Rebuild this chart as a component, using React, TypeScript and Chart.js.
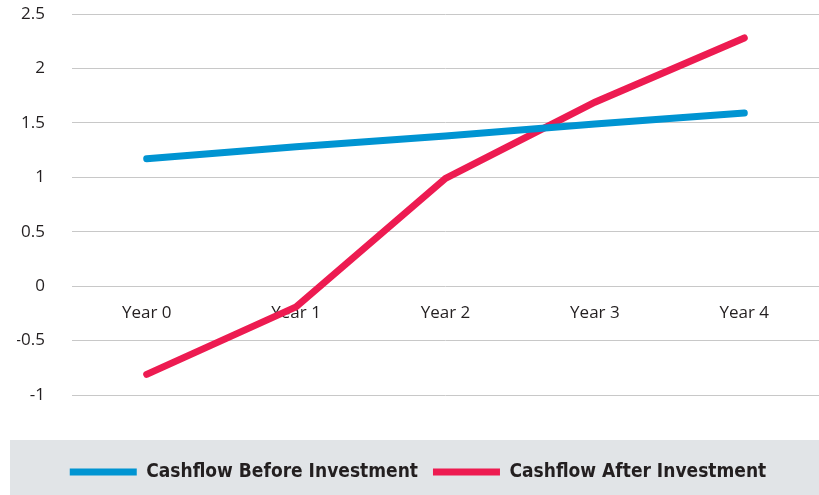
import React, { useEffect, useRef } from "react";
import { Chart, registerables } from "chart.js";

Chart.register(...registerables);

const categories = ["Year 0", "Year 1", "Year 2", "Year 3", "Year 4"];
const beforeInvestment = [1.17, 1.28, 1.38, 1.49, 1.59];
const afterInvestment = [-0.81, -0.19, 0.99, 1.69, 2.28];
const seriesNames = ["Cashflow Before Investment", "Cashflow After Investment"];

const BLUE = "#0094d2";
const RED = "#ed1b51";
const TEXT = "#231f20";

const legendBg = {
  id: "legendBg",
  beforeDraw(chart: any) {
    const lg = chart.legend;
    if (!lg) return;
    const ctx = chart.ctx;
    ctx.save();
    ctx.fillStyle = "#e1e4e7";
    ctx.fillRect(10, lg.top, chart.width - 10, chart.height - lg.top);
    ctx.restore();
  },
};

export default function App() {
  const ref = useRef<HTMLCanvasElement | null>(null);
  useEffect(() => {
    if (!ref.current) return;
    const chart = new Chart(ref.current, {
      type: "line",
      data: {
        labels: categories,
        datasets: [
          {
            label: seriesNames[0],
            data: beforeInvestment,
            borderColor: BLUE,
            backgroundColor: BLUE,
            borderWidth: 7,
            borderCapStyle: "round",
            pointRadius: 0,
            pointHoverRadius: 0,
            tension: 0,
          },
          {
            label: seriesNames[1],
            data: afterInvestment,
            borderColor: RED,
            backgroundColor: RED,
            borderWidth: 7,
            borderCapStyle: "round",
            pointRadius: 0,
            pointHoverRadius: 0,
            tension: 0,
          },
        ],
      },
      options: {
        animation: false,
        responsive: true,
        maintainAspectRatio: false,
        layout: { padding: { left: 17, top: 14, right: 0, bottom: 3.5 } },
        plugins: {
          tooltip: { enabled: false },
          legend: {
            position: "bottom",
            title: {
              display: true,
              text: "",
              font: { size: 1, lineHeight: 1 },
              padding: 3.25,
            },
            labels: {
              usePointStyle: true,
              pointStyle: "line",
              pointStyleWidth: 67,
              boxHeight: 7,
              padding: 15,
              color: TEXT,
              font: {
                family: '"Liberation Sans Narrow", "DejaVu Sans Condensed", Roboto, sans-serif',
                size: 19,
                weight: "bold",
              },
            },
          },
        },
        scales: {
          x: {
            type: "category",
            position: { y: 0 } as any,
            offset: true,
            grid: { display: false, drawTicks: false },
            border: { display: false },
            ticks: {
              color: TEXT,
              padding: 17,
              maxRotation: 0,
              font: { family: '"Open Sans", sans-serif', size: 17 },
            },
          },
          xPad: {
            type: "category",
            axis: "x",
            position: "bottom",
            grid: { display: false, drawTicks: false },
            border: { display: false },
            ticks: { display: false },
            afterFit(scale: any) {
              scale.height = 45;
            },
          } as any,
          y: {
            min: -1,
            max: 2.5,
            ticks: {
              stepSize: 0.5,
              color: TEXT,
              padding: 27,
              font: { family: '"Open Sans", sans-serif', size: 17 },
              callback: (v: any) => String(Number(v)),
            },
            grid: { color: "#c8c8c8", lineWidth: 1, drawTicks: false },
            border: { display: false },
            afterFit(scale: any) {
              scale.width = 55;
              scale.paddingTop = 0;
              scale.paddingBottom = 0;
            },
          },
        },
      },
      plugins: [legendBg],
    });
    return () => chart.destroy();
  }, []);

  return (
    <div style={{ position: "absolute", left: 0, top: 0, width: 819, height: 495 }}>
      <canvas ref={ref} />
    </div>
  );
}
